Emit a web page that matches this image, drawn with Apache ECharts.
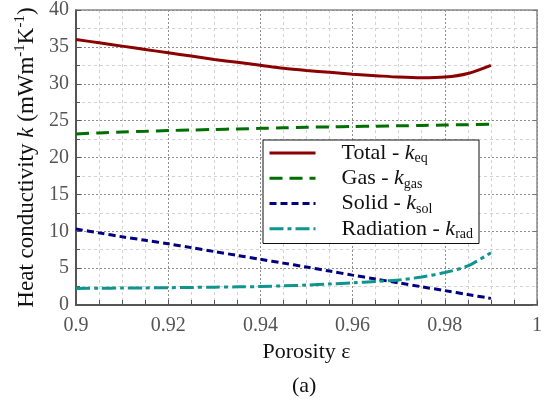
<!DOCTYPE html>
<html>
<head>
<meta charset="utf-8">
<script src="https://cdn.jsdelivr.net/npm/echarts@6/dist/echarts.min.js"></script>
<style>
html,body{margin:0;padding:0;background:#fff;}
#c{width:550px;height:403px;}
</style>
</head>
<body>
<div id="c"></div>
<script>
// Data
const porosity   = [0.90, 0.905, 0.91, 0.915, 0.92, 0.925, 0.93, 0.935, 0.94, 0.945, 0.95, 0.955, 0.96, 0.965, 0.97, 0.975, 0.98, 0.985, 0.99];
const kTotal     = [36.0, 35.55, 35.1, 34.65, 34.2, 33.75, 33.3, 32.9, 32.5, 32.1, 31.8, 31.55, 31.3, 31.1, 30.9, 30.8, 30.9, 31.4, 32.5];
const kGas       = [23.2, 23.33, 23.45, 23.55, 23.65, 23.73, 23.8, 23.88, 23.95, 24.03, 24.1, 24.15, 24.2, 24.25, 24.3, 24.35, 24.4, 24.45, 24.5];
const kSolid     = [10.3, 9.78, 9.25, 8.78, 8.3, 7.78, 7.25, 6.72, 6.2, 5.68, 5.15, 4.6, 4.05, 3.52, 3.0, 2.47, 1.95, 1.42, 0.9];
const kRad       = [2.25, 2.27, 2.3, 2.32, 2.35, 2.38, 2.42, 2.46, 2.5, 2.6, 2.7, 2.85, 3.0, 3.2, 3.4, 3.8, 4.4, 5.3, 7.1];
const seriesNames = ['Total', 'Gas', 'Solid', 'Radiation'];
const subscripts  = ['eq', 'gas', 'sol', 'rad'];
const xTicks = [0.9, 0.92, 0.94, 0.96, 0.98, 1];

const pairs = ys => porosity.map((x, i) => [x, ys[i]]);
const serif = 'Liberation Serif';

const chart = echarts.init(document.getElementById('c'), null, {renderer: 'canvas'});

function mkSeries(name, data, color, type, z) {
  return {
    name: name, type: 'line', data: pairs(data), smooth: 0.3, symbol: 'none', z: z,
    lineStyle: {color: color, width: 3, type: type, cap: 'butt'},
    itemStyle: {color: color, opacity: 0}
  };
}

const minorSplit = {show: true, lineStyle: {color: '#d2d2d2', width: 1, type: [3, 3]}};
const majorSplit = {show: true, lineStyle: {color: '#8e8e8e', width: 1, type: [2, 2]}};

chart.setOption({
  backgroundColor: '#fff',
  animation: false,
  grid: {left: 76, right: 13, top: 10, bottom: 98, show: false},
  xAxis: [{
    type: 'value', min: 0.9, max: 1, interval: 0.02,
    name: 'Porosity ε', nameLocation: 'middle', nameGap: 36,
    nameTextStyle: {fontFamily: serif, fontSize: 22, color: '#111'},
    axisLine: {show: true, onZero: false, lineStyle: {color: '#555', width: 2}},
    axisTick: {show: true, inside: true, length: 5, lineStyle: {color: '#555', width: 1}},
    minorTick: {show: true, splitNumber: 4, length: 5, lineStyle: {color: '#555', width: 1}},
    axisLabel: {fontFamily: serif, fontSize: 20, color: '#555', margin: 11,
      formatter: v => { const t = xTicks.find(u => Math.abs(u - v) < 1e-6); return t === undefined ? '' : String(t); }},
    splitLine: majorSplit,
    minorSplitLine: minorSplit
  }, {
    type: 'value', position: 'top', min: 0.9, max: 1, interval: 0.02,
    axisLine: {show: true, onZero: false, lineStyle: {color: '#8a8a8a', width: 1.5}},
    axisTick: {show: false}, axisLabel: {show: false}, splitLine: {show: false}
  }],
  yAxis: [{
    type: 'value', min: 0, max: 40, interval: 5,
    name: '{n|Heat conductivity }{i|k}{n| (mWm}{s|-1}{n|K}{s|-1}{n|)}',
    nameLocation: 'middle', nameGap: 36, nameRotate: 90,
    nameTextStyle: {fontFamily: serif, fontSize: 23, color: '#111',
      rich: {
        n: {fontFamily: serif, fontSize: 23, color: '#111', lineHeight: 27},
        i: {fontFamily: serif, fontSize: 23, fontStyle: 'italic', color: '#111', lineHeight: 27},
        s: {fontFamily: serif, fontSize: 15, color: '#111', verticalAlign: 'top', lineHeight: 15}
      }},
    axisLine: {show: true, onZero: false, lineStyle: {color: '#555', width: 2}},
    axisTick: {show: true, inside: true, length: 5, lineStyle: {color: '#555', width: 1}},
    minorTick: {show: true, splitNumber: 2, length: 4, lineStyle: {color: '#555', width: 1}},
    axisLabel: {fontFamily: serif, fontSize: 20, color: '#555', margin: 7},
    splitLine: majorSplit,
    minorSplitLine: minorSplit
  }, {
    type: 'value', position: 'right', min: 0, max: 40, interval: 5,
    axisLine: {show: true, onZero: false, lineStyle: {color: '#8a8a8a', width: 1.5}},
    axisTick: {show: true, inside: true, length: 4, lineStyle: {color: '#777', width: 1}},
    axisLabel: {show: false}, splitLine: {show: false}
  }],
  legend: {
    orient: 'vertical', left: 263, top: 140,
    padding: [2, 6, 2, 5],
    itemWidth: 46, itemHeight: 2, itemGap: 1.5,
    backgroundColor: '#fff', borderColor: '#111', borderWidth: 1, borderRadius: 0,
    itemStyle: {opacity: 0},
    lineStyle: {width: 3},
    data: seriesNames,
    formatter: name => {
      const i = seriesNames.indexOf(name);
      return '{a|' + name + ' - }{k|k}{s|' + subscripts[i] + '}';
    },
    textStyle: {
      fontFamily: serif, fontSize: 22, color: '#111',
      rich: {
        a: {fontFamily: serif, fontSize: 22, color: '#111', padding: [0, 0, 0, 21], lineHeight: 25.5},
        k: {fontFamily: serif, fontSize: 22, fontStyle: 'italic', color: '#111', lineHeight: 25.5},
        s: {fontFamily: serif, fontSize: 14, color: '#111', verticalAlign: 'bottom', lineHeight: 18}
      }
    }
  },
  graphic: [{
    type: 'text', left: 292, top: 375, z: 10,
    style: {text: '(a)', fontFamily: serif, fontSize: 22, fill: '#111'}
  }],
  series: [
    mkSeries('Total', kTotal, '#8b0000', 'solid', 5),
    mkSeries('Gas', kGas, '#006e00', [13, 7], 4),
    mkSeries('Solid', kSolid, '#000080', [7, 4], 3),
    mkSeries('Radiation', kRad, '#0f958f', [14, 4, 4, 4], 6)
  ]
});
</script>
</body>
</html>
